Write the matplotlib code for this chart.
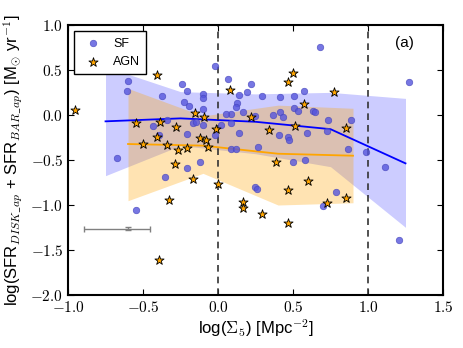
import numpy as np
import matplotlib
matplotlib.use('Agg')
import matplotlib.pyplot as plt
from matplotlib.ticker import FuncFormatter

plt.rcParams['font.family'] = ['Liberation Sans', 'DejaVu Sans']
plt.rcParams['mathtext.fontset'] = 'cm'

# SF galaxies
sf_x = [-0.64, -0.60, -0.605, -0.373, -0.238, -0.207, -0.229, -0.193, -0.34, -0.102,
        -0.098, -0.018, 0.069, 0.14, 0.195, 0.22, 0.127, 0.118, 0.167, 0.247,
        0.084, 0.051, 0.022, 0.089, 0.14, 0.084, 0.118, 0.264, -0.02, -0.102,
        -0.10, -0.169, -0.147, -0.209, -0.431, -0.393, -0.209, -0.12, -0.671, -0.351,
        -0.547, 0.247, 0.26, 0.784, 0.698, 1.111, 1.207, 0.502, 0.58, 0.68,
        1.276, 0.296, 0.413, 0.507, 0.571, 0.504, 0.536, 0.636, 0.647, 0.411,
        0.433, 0.364, 0.731, 0.887, 0.409, 0.464, 0.473, 0.596, 0.724, 0.867, 0.989]
sf_y = [0.53, 0.38, 0.27, 0.21, 0.34, 0.27, 0.14, 0.10, -0.05, 0.233,
        0.186, 0.54, 0.40, 0.22, 0.26, 0.35, 0.13, 0.085, 0.037, -0.015,
        0.011, 0.008, -0.115, -0.09, -0.2, -0.378, -0.38, -0.36, -0.22, 0.063,
        -0.11, -0.085, -0.078, -0.21, -0.122, -0.226, -0.593, -0.522, -0.482, -0.693,
        -1.056, -0.797, -0.819, -0.856, -1.011, -0.574, -1.389, -0.526, -0.50, 0.759,
        0.367, 0.215, 0.196, 0.207, 0.263, 0.078, 0.044, 0.048, 0.03, 0.03,
        -0.018, -0.004, -0.052, -0.052, -0.226, -0.248, -0.278, -0.196, -0.178, -0.374, -0.407]

# AGN
agn_x = [-0.405, -0.951, -0.545, -0.39, -0.28, -0.013, -0.153, -0.093, -0.405, -0.12,
         -0.08, -0.069, -0.207, -0.269, -0.342, -0.502, -0.284, -0.164, 0.002, -0.324,
         -0.391, 0.164, 0.169, 0.291, 0.469, 0.602, 0.469, 0.729, 0.851, 0.384,
         0.08, 0.222, 0.498, 0.467, 0.773, 0.571, 0.851, 0.513, 0.338]
agn_y = [0.44, 0.06, -0.09, -0.08, -0.137, -0.156, 0.026, -0.018, -0.248, -0.26,
         -0.278, -0.352, -0.363, -0.389, -0.337, -0.319, -0.544, -0.715, -0.767, -0.944,
         -1.61, -0.963, -1.037, -1.096, -0.83, -0.737, -1.204, -0.981, -0.919, -0.519,
         0.28, -0.018, 0.47, 0.367, 0.252, 0.119, -0.141, -0.122, -0.163]

# running medians and ranges
sf_bin = [-0.75, -0.25, 0.25, 0.75, 1.25]
sf_med = [-0.07, -0.037, -0.075, -0.157, -0.537]
sf_lo = [-0.674, -0.34, -0.43, -0.574, -1.248]
sf_hi = [0.537, 0.26, 0.235, 0.252, 0.185]

agn_bin = [-0.6, -0.1, 0.4, 0.9]
agn_med = [-0.322, -0.34, -0.43, -0.452]
agn_lo = [-0.952, -0.648, -1.0, -0.975]
agn_hi = [0.296, -0.01, 0.11, 0.075]

# typical error
err_x, err_y = -0.598, -1.263
err_xlo, err_xhi = 0.293, 0.145
err_dy = 0.02

fig = plt.figure(figsize=(4.63, 3.48), dpi=100)
ax = fig.add_axes([0.1469, 0.1523, 0.8099, 0.7757])

ax.fill_between(sf_bin, sf_lo, sf_hi, color='#0000ff', alpha=0.2, lw=0)
ax.fill_between(agn_bin, agn_lo, agn_hi, color='orange', alpha=0.3, lw=0)
ax.plot(sf_bin, sf_med, color='blue', lw=1.3)
ax.plot(agn_bin, agn_med, color='orange', lw=1.3)

ax.scatter(sf_x, sf_y, s=22, marker='o', color='#5555dd', alpha=0.8,
           edgecolors='#4444bb', linewidths=0.5, label='SF', zorder=3)
ax.scatter(agn_x, agn_y, s=48, marker='*', color='orange', edgecolors='black',
           linewidths=0.6, label='AGN', zorder=4)

ax.errorbar([err_x], [err_y], xerr=[[err_xlo], [err_xhi]], yerr=[[err_dy], [err_dy]],
            fmt='none', ecolor='gray', elinewidth=1, capsize=2)

ax.axvline(0, color='#333333', ls='--', lw=1.2, dashes=(4, 3))
ax.axvline(1, color='#333333', ls='--', lw=1.2, dashes=(4, 3))

ax.set_xlim(-1.0, 1.5)
ax.set_ylim(-2.0, 1.0)
ax.set_xticks([-1.0, -0.5, 0.0, 0.5, 1.0, 1.5])
ax.set_yticks([-2.0, -1.5, -1.0, -0.5, 0.0, 0.5, 1.0])
fmt = FuncFormatter(lambda v, p: '$%.1f$' % v)
ax.xaxis.set_major_formatter(fmt)
ax.yaxis.set_major_formatter(fmt)
ax.tick_params(direction='in', top=True, right=True, labelsize=11, length=4)
for sp in ax.spines.values():
    sp.set_linewidth(1.5)

ax.set_xlabel(r'log($\Sigma_5$) [Mpc$^{-2}$]', fontsize=12, labelpad=2)
ax.set_ylabel(r'log(SFR$_{DISK\_ap}$ + SFR$_{BAR\_ap}$) [M$_{\odot}$ yr$^{-1}$]',
              fontsize=12, labelpad=4)

ax.text(1.24, 0.8, '(a)', fontsize=11, ha='center', va='center')
ax.legend(loc='upper left', scatterpoints=1, fontsize=9, fancybox=False,
          edgecolor='black', framealpha=1, borderpad=0.5, handletextpad=0.6)

fig.savefig('out.png', dpi=100)
